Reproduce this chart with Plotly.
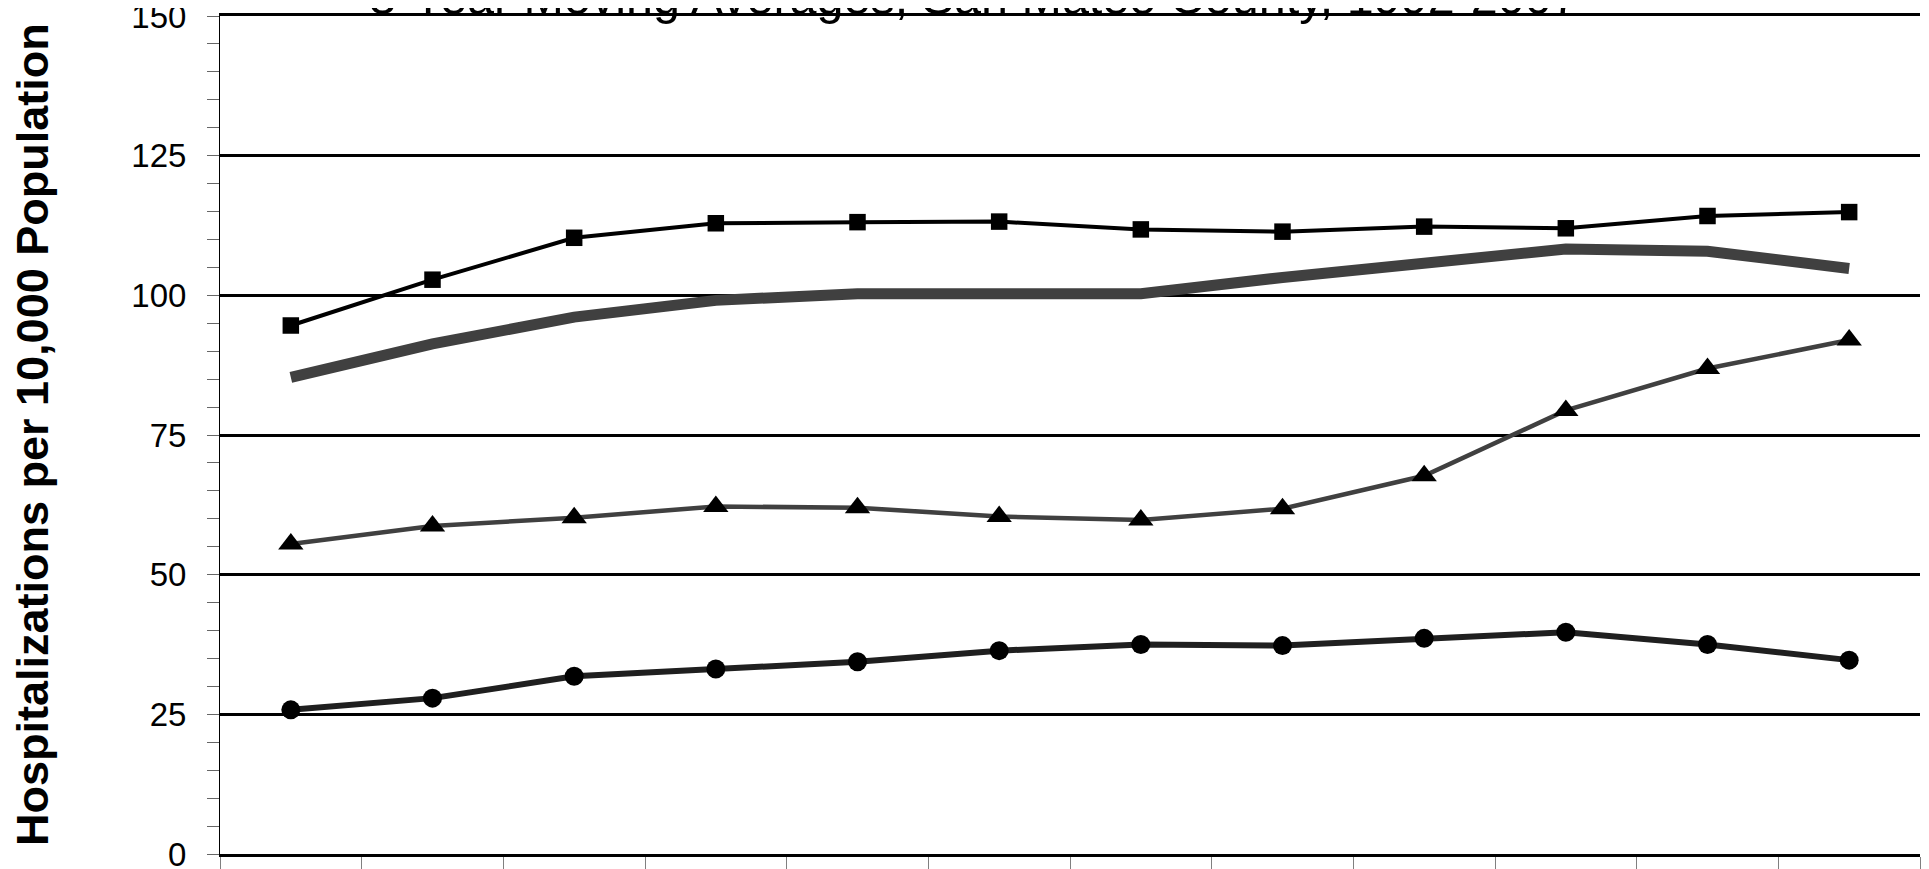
import plotly.graph_objects as go

# Category labels (3-year windows; not visible in the cropped reference)
periods = ["1992-1994", "1993-1995", "1994-1996", "1995-1997", "1996-1998", "1997-1999",
           "1998-2000", "1999-2001", "2000-2002", "2001-2003", "2002-2004", "2003-2005"]

series_square = [94.6, 102.8, 110.3, 112.9, 113.1, 113.2, 111.8, 111.4, 112.3, 112.0, 114.2, 114.9]
series_thick = [85.3, 91.3, 96.1, 99.1, 100.3, 100.2, 100.3, 103.2, 105.6, 108.3, 107.9, 104.8]
series_triangle = [55.5, 58.7, 60.2, 62.2, 62.0, 60.4, 59.8, 61.8, 67.7, 79.4, 86.9, 92.0]
series_circle = [25.8, 27.9, 31.8, 33.1, 34.4, 36.4, 37.5, 37.3, 38.6, 39.7, 37.5, 34.7]

y_ticks = [0, 25, 50, 75, 100, 125, 150]
title_text = "3-Year Moving Averages, San Mateo County, 1992-2007"
y_title = "Hospitalizations per 10,000 Population"

fig = go.Figure()

fig.add_trace(go.Scatter(x=periods, y=series_circle, mode="lines+markers",
                         line=dict(color="#1f1f1f", width=6),
                         marker=dict(symbol="circle", size=19, color="black")))
fig.add_trace(go.Scatter(x=periods, y=series_triangle, mode="lines+markers",
                         line=dict(color="#404040", width=4.5),
                         marker=dict(symbol="triangle-up", size=22, color="black")))
fig.add_trace(go.Scatter(x=periods, y=series_thick, mode="lines",
                         line=dict(color="#404040", width=11)))
fig.add_trace(go.Scatter(x=periods, y=series_square, mode="lines+markers",
                         line=dict(color="black", width=4),
                         marker=dict(symbol="square", size=16.5, color="black")))

font_family = "Liberation Sans, Arial, sans-serif"

# page body adds an 8px offset; plot area spans x 220..1920, y 16..854 in the window
fig.update_layout(
    width=1921, height=861,
    margin=dict(l=212, r=9, t=8, b=15, autoexpand=False),
    paper_bgcolor="white", plot_bgcolor="white",
    showlegend=False,
    font=dict(family=font_family, color="black"),
    xaxis=dict(
        type="category",
        range=[-0.5, len(periods) - 0.5],
        automargin=False,
        showticklabels=False,
        showgrid=False,
        showline=True, linecolor="black", linewidth=3, mirror=True,
        ticks="outside", tickson="boundaries", ticklen=20, tickcolor="#808080", tickwidth=1,
        zeroline=False,
    ),
    yaxis=dict(
        range=[0, 150],
        automargin=False,
        tickvals=y_ticks,
        ticktext=[str(v) for v in y_ticks],
        tickfont=dict(size=33, family=font_family, color="black"),
        ticks="",
        ticklabelstandoff=26,
        ticklabeloverflow="allow",
        showgrid=True, gridcolor="black", gridwidth=3,
        showline=True, linecolor="black", linewidth=1,
        zeroline=False,
        minor=dict(dtick=5, tick0=0, ticks="outside", ticklen=12, tickcolor="#666666", tickwidth=1,
                   showgrid=False),
    ),
    yaxis2=dict(
        range=[0, 150], overlaying="y", side="left", anchor="x",
        automargin=False,
        showticklabels=False, showgrid=False, showline=False, zeroline=False,
        tickvals=y_ticks, ticks="",
        minor=dict(dtick=5, tick0=0, ticks="inside", ticklen=13, tickcolor="#666666", tickwidth=1,
                   showgrid=False),
    ),
    yaxis3=dict(
        range=[0, 150], overlaying="y", side="right", anchor="x",
        automargin=False,
        showticklabels=False, showgrid=False, zeroline=False, ticks="",
        showline=True, linecolor="#808080", linewidth=1,
    ),
    annotations=[
        dict(text=title_text, xref="paper", yref="paper", x=(974 - 220) / 1700, y=1.023,
             xanchor="center", yanchor="middle", showarrow=False,
             font=dict(size=48.5, family=font_family, color="black")),
        dict(text="<b>" + y_title + "</b>", xref="paper", yref="paper",
             x=(32 - 220) / 1700, y=0.5, xanchor="center", yanchor="middle",
             textangle=-90, showarrow=False,
             font=dict(size=45, family=font_family, color="black")),
    ],
)

fig.write_html("out.html")
